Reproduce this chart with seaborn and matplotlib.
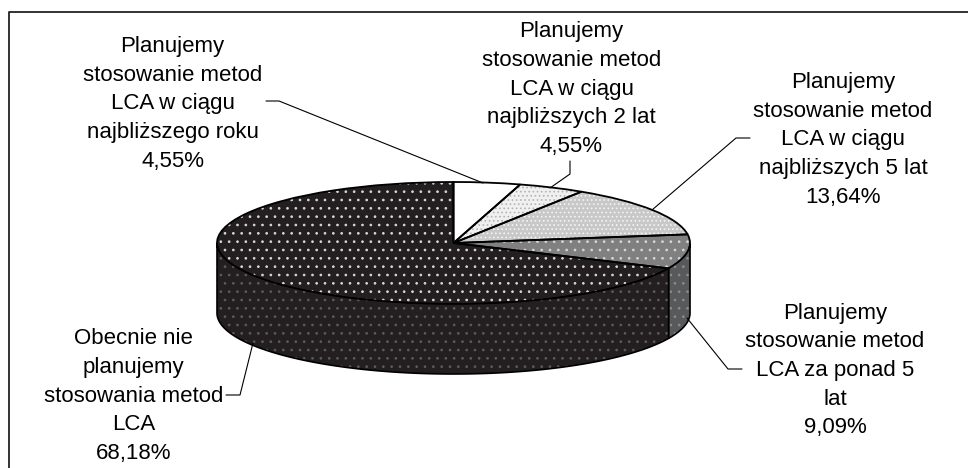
import numpy as np
import matplotlib
matplotlib.use("Agg")
import matplotlib.pyplot as plt
from matplotlib.transforms import Affine2D
import seaborn as sns

# values
shares = [4.55, 4.55, 13.64, 9.09, 68.18]
names = [
    "Planujemy\nstosowanie metod\nLCA w ciągu\nnajbliższego roku",
    "Planujemy\nstosowanie metod\nLCA w ciągu\nnajbliższych 2 lat",
    "Planujemy\nstosowanie metod\nLCA w ciągu\nnajbliższych 5 lat",
    "Planujemy\nstosowanie metod\nLCA za ponad 5\nlat",
    "Obecnie nie\nplanujemy\nstosowania metod\nLCA",
]

# styling per slice
top_fill = ["#ffffff", "#f0f0f0", "#c8c8c8", "#808080", "#231f20"]
top_dots = ["#ffffff", "#b4b4b4", "#f4f4f4", "#d8d8d8", "#d8d8d8"]
top_hatch = ["", "....", "....", "..", ".."]
wall_fill = ["#ffffff", "#f0f0f0", "#c8c8c8", "#58595b", "#231f20"]
wall_dots = ["#ffffff", "#b4b4b4", "#f4f4f4", "#8c8c8c", "#5c5c5c"]

label_pos = [(172.5, 104), (571.5, 89), (843, 140), (835, 370.5), (133.5, 396)]
leaders = [
    [(266, 101), (279, 101), (483, 183)],
    [(570, 161), (570, 174), (550, 188)],
    [(750, 138), (736, 138), (652, 210)],
    [(742, 369), (728, 369), (687, 318)],
    [(226, 395), (240, 395), (253, 343)],
]

# pie geometry in pixels
W, H = 968, 468
cx, cy, rx, ry, depth = 453.5, 243, 236.5, 61, 70

sns.set_theme(style="white")
plt.rcParams["font.family"] = ["Liberation Sans", "DejaVu Sans"]
plt.rcParams["hatch.linewidth"] = 0.7

fig = plt.figure(figsize=(W / 100, H / 100), dpi=100)
ax = fig.add_axes([0, 0, 1, 1])

# top face: dots first, outlines on top
for i, (fill, dots, hatch) in enumerate(zip(top_fill, top_dots, top_hatch)):
    ax.pie(
        shares,
        startangle=90,
        counterclock=False,
        colors=[fill if j == i else "none" for j in range(len(shares))],
        hatch=[hatch if j == i else "" for j in range(len(shares))],
        wedgeprops={"edgecolor": dots, "linewidth": 0},
    )
ax.pie(
    shares,
    startangle=90,
    counterclock=False,
    colors=["none"] * len(shares),
    wedgeprops={"edgecolor": "black", "linewidth": 1.3},
)

# side wall, only the front half is visible
edges = np.cumsum([0] + shares) / sum(shares) * 360
for i in range(len(shares)):
    a, b = max(edges[i], 90), min(edges[i + 1], 270)
    if a >= b:
        continue
    phi = np.radians(np.linspace(a, b, 120))
    x = np.sin(phi)
    y = np.cos(phi)
    ax.fill(
        np.r_[x, x[::-1]],
        np.r_[y, y[::-1] - depth / ry],
        facecolor=wall_fill[i],
        edgecolor=wall_dots[i],
        hatch="..",
        linewidth=0,
    )
    ax.fill(
        np.r_[x, x[::-1]],
        np.r_[y, y[::-1] - depth / ry],
        facecolor="none",
        edgecolor="black",
        linewidth=1.2,
    )

ax.set_aspect("auto")
ax.set_xlim((0 - cx) / rx, (W - cx) / rx)
ax.set_ylim((cy - H) / ry, cy / ry)
ax.axis("off")

# pixel coordinates, origin top left
px = Affine2D().scale(1, -1).translate(0, H)

for pts in leaders:
    xs, ys = zip(*pts)
    ax.plot(xs, ys, color="black", lw=0.8, transform=px, clip_on=False)

for name, share, (lx, ly) in zip(names, shares, label_pos):
    txt = name + "\n" + f"{share:.2f}%".replace(".", ",")
    ax.text(lx, ly, txt, transform=px, ha="center", va="center",
            fontsize=16, color="black", linespacing=1.47)

# frame: only the left and top edges show
ax.plot([8.5, 8.5, W], [H, 11.5, 11.5], color="#222222", lw=1.3, transform=px, clip_on=False)

fig.savefig("out.png", dpi=100, facecolor="white")
